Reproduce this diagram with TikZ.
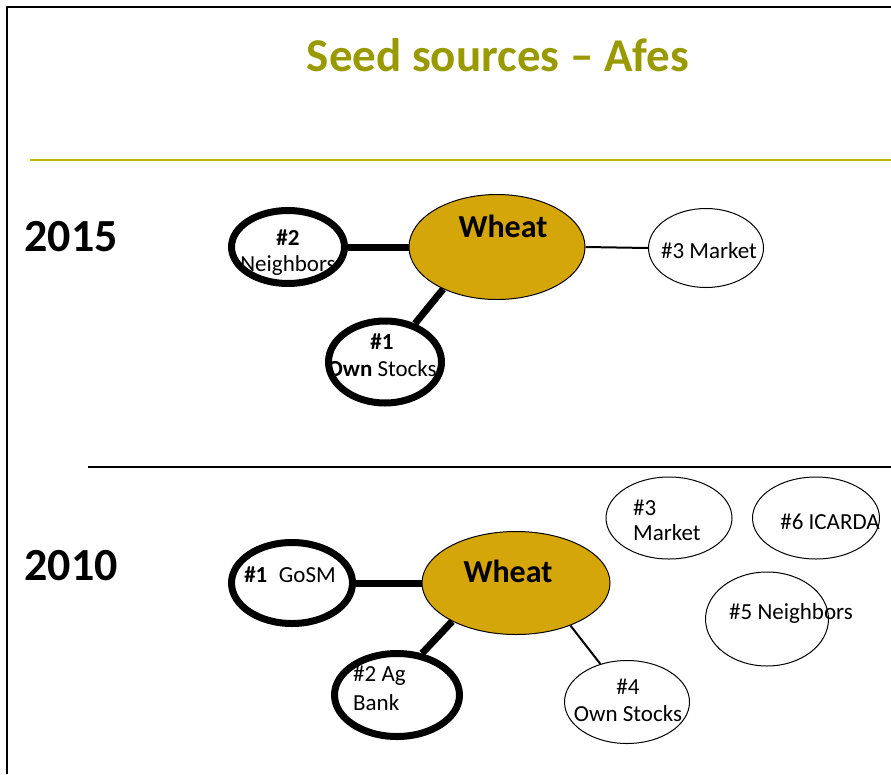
\documentclass[tikz,border=0pt]{standalone}
\usepackage{fontspec}
\setmainfont{Carlito}
\usetikzlibrary{shapes.geometric}
\definecolor{olivetitle}{RGB}{153,153,0}
\definecolor{oliveline}{RGB}{185,185,0}
\definecolor{wheatgold}{RGB}{212,166,10}
\tikzset{
  src/.style={draw, ellipse, inner sep=0pt},
  strong/.style={src, line width=7pt},
  weak/.style={src, line width=1pt},
  core/.style={src, line width=1pt, fill=wheatgold},
  lbl/.style={inner sep=0pt, font=\fontsize{23}{27}\selectfont},
  blbl/.style={inner sep=0pt, font=\fontsize{23}{27}\selectfont\bfseries},
  wlbl/.style={inner sep=0pt, font=\fontsize{32}{36}\selectfont\bfseries},
  year/.style={inner sep=0pt, font=\fontsize{46}{50}\selectfont\bfseries},
  thickcon/.style={line width=7pt},
  thincon/.style={line width=2pt},
}
\begin{document}
\begin{tikzpicture}[x=1pt,y=-1pt]
\useasboundingbox (0,0) rectangle (891,774);
% frame
\draw[line width=2pt] (7,774) -- (7,7) -- (891,7);
% title
\node[inner sep=0pt, text=olivetitle, font=\fontsize{47}{51}\selectfont\bfseries] (title) at (498,55) {Seed sources – Afes};
\draw[oliveline, line width=2.5pt] (30,160) -- (891,160);
\draw[line width=2pt] (88,467) -- (891,467);
% years
\node[year] (y15) at (71,237) {2015};
\node[year] (y10) at (71,566) {2010};

% ---- 2015 ----
\node[core, minimum width=176pt, minimum height=105pt] (w15) at (497,247) {};
\node[strong, minimum width=113pt, minimum height=73pt] (nb15) at (288,247) {};
\node[strong, minimum width=113pt, minimum height=82pt] (os15) at (385,362) {};
\node[weak, minimum width=115pt, minimum height=79pt] (mk15) at (706,248) {};
\draw[thickcon] (nb15.east) -- (w15.west);
\draw[thickcon] (os15.52) -- (w15.218);
\draw[thincon] (w15.east) -- (mk15.west);
\node[wlbl] (w15t) at (503,226) {Wheat};
\node[blbl] (nb15a) at (288,238) {\#2};
\node[lbl] (nb15b) at (288,265) {Neighbors};
\node[blbl] (os15a) at (382,342) {\#1};
\node[lbl] (os15b) at (382,369) {\textbf{Own} Stocks};
\node[lbl] (mk15t) at (709,251) {\#3 Market};

% ---- 2010 ----
\node[core, minimum width=188pt, minimum height=103pt] (w10) at (516,583) {};
\node[strong, minimum width=121pt, minimum height=81pt] (gs10) at (292,583) {};
\node[strong, minimum width=125pt, minimum height=83pt] (ab10) at (397,695) {};
\node[weak, minimum width=125pt, minimum height=83pt] (os10) at (627,702) {};
\node[weak, minimum width=126pt, minimum height=82pt] (mk10) at (669,518) {};
\node[weak, minimum width=127pt, minimum height=82pt] (ic10) at (816,518) {};
\node[weak, minimum width=123pt, minimum height=94pt] (nb10) at (767,619) {};
\draw[thickcon] (gs10.east) -- (w10.west);
\draw[thickcon] (ab10.59) -- (w10.211);
\draw[thincon] (w10.322) -- (os10.125);
\node[wlbl] (w10t) at (508,571) {Wheat};
\node[lbl] (gs10t) at (290,575) {\textbf{\#1}\hspace{0.5em}GoSM};
\node[lbl, anchor=west] (ab10a) at (353,676) {\#2 Ag};
\node[lbl, anchor=west] (ab10b) at (353,703) {Bank};
\node[lbl] (os10a) at (628,687) {\#4};
\node[lbl] (os10b) at (628,714) {Own Stocks};
\node[lbl, anchor=west] (mk10a) at (633,508) {\#3};
\node[lbl, anchor=west] (mk10b) at (633,533) {Market};
\node[lbl] (ic10t) at (830,522) {\#6 ICARDA};
\node[lbl] (nb10t) at (791,613) {\#5 Neighbors};
\end{tikzpicture}
\end{document}
